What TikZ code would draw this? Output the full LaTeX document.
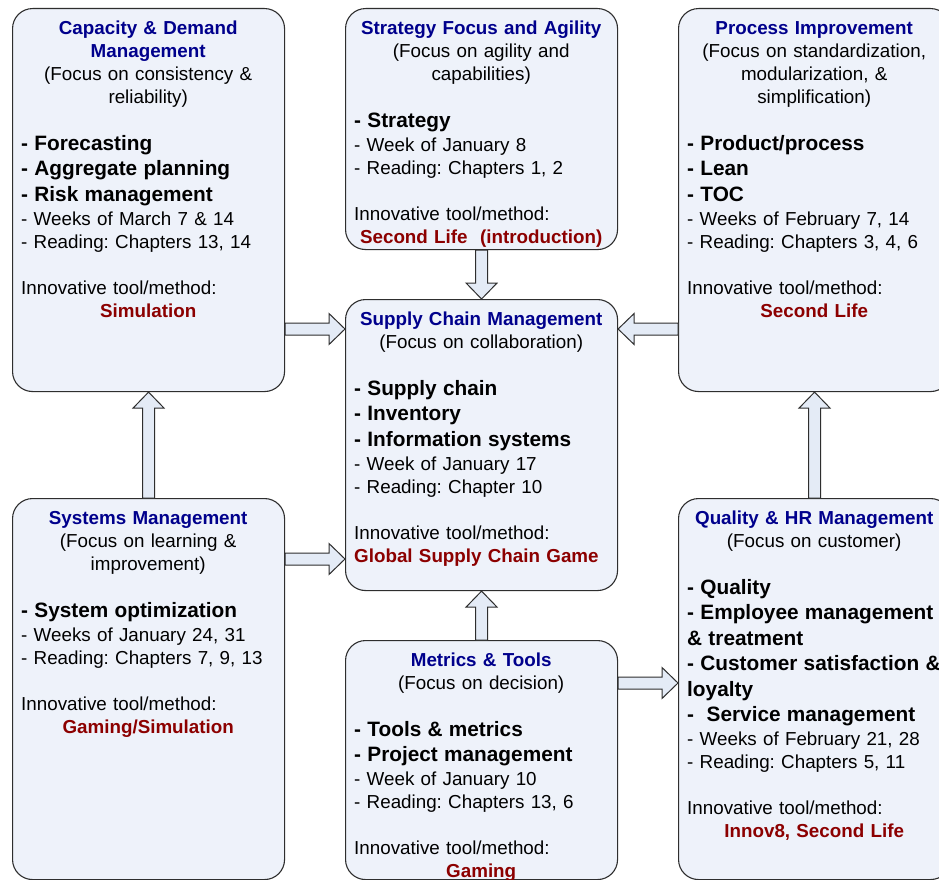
\documentclass[tikz,border=0pt]{standalone}
\usepackage{fontspec}
\setmainfont{Liberation Sans}
\usetikzlibrary{calc}
\setlength{\parindent}{0pt}
\frenchspacing
\definecolor{boxfill}{HTML}{EEF2FA}
\definecolor{arrowfill}{HTML}{E4EBF6}
\definecolor{edgegray}{HTML}{2E2E2E}
\definecolor{titleblue}{HTML}{00008C}
\definecolor{toolred}{HTML}{8C0000}
\newcommand{\ctr}[1]{\makebox[\hsize]{#1}}
\newcommand{\boxtitle}[1]{\ctr{\color{titleblue}\bfseries #1}}
\newcommand{\toolname}[1]{\ctr{\color{toolred}\bfseries #1}}
\newcommand{\itm}[1]{{\fontsize{20.8}{25.5}\selectfont\bfseries #1}}
\newcommand{\blockarrow}[2]{%
  \draw[barrow] let \p1=#1, \p2=#2, \n1={atan2(\y2-\y1,\x2-\x1)},
    \n2={veclen(\x2-\x1,\y2-\y1)} in [shift={(\p1)}, rotate=\n1]
    (0,-6) -- (\n2-16,-6) -- (\n2-16,-15.5) -- (\n2,0) -- (\n2-16,15.5)
    -- (\n2-16,6) -- (0,6) -- cycle;}
\begin{document}
\begin{tikzpicture}[x=1pt, y=-1pt,
  box/.style={draw=edgegray, line width=1.1pt, fill=boxfill, rounded corners=20pt,
    anchor=north west, minimum width=272pt, inner sep=0pt},
  txt/.style={anchor=north west, text width=254pt, align=left, inner sep=0pt,
    font=\fontsize{18.8}{23}\selectfont},
  barrow/.style={draw=edgegray, line width=1pt, fill=arrowfill, line join=miter}]
\useasboundingbox (0,0) rectangle (939,880);
\clip (0,0) rectangle (939,880);
\fill[white] (0,0) rectangle (939,880);

\node[box, minimum height=383pt] (capdem) at (12,8) {};
\node[box, minimum height=241pt] (strat) at (345,8) {};
\node[box, minimum height=383pt] (procimp) at (678,8) {};
\node[box, minimum height=291pt] (scm) at (345,299) {};
\node[box, minimum height=381pt] (sysman) at (12,498) {};
\node[box, minimum height=239pt] (metrics) at (345,640) {};
\node[box, minimum height=381pt] (qualhr) at (678,498) {};

\node[txt] (capdemtxt) at ([shift={(9,10)}]capdem.north west) {%
  \vrule height 16pt width 0pt\boxtitle{Capacity \& Demand}\\
  \boxtitle{Management}\\
  \ctr{(Focus on consistency \&}\\
  \ctr{reliability)}\\[24pt]
  \itm{- Forecasting}\\[2.5pt]
  \itm{- Aggregate planning}\\[2.5pt]
  \itm{- Risk management}\\[1pt]
  - Weeks of March 7 \& 14\\
  - Reading: Chapters 13, 14\\[23pt]
  Innovative tool/method:\\
  \toolname{Simulation}};

\node[txt] (strattxt) at ([shift={(9,10)}]strat.north west) {%
  \vrule height 16pt width 0pt\boxtitle{Strategy Focus and Agility}\\
  \ctr{(Focus on agility and}\\
  \ctr{capabilities)}\\[24pt]
  \itm{- Strategy}\\[1pt]
  - Week of January 8\\
  - Reading: Chapters 1, 2\\[23pt]
  Innovative tool/method:\\
  \toolname{Second Life~ (introduction)}};

\node[txt] (procimptxt) at ([shift={(9,10)}]procimp.north west) {%
  \vrule height 16pt width 0pt\boxtitle{Process Improvement}\\
  \ctr{(Focus on standardization,}\\
  \ctr{modularization, \&}\\
  \ctr{simplification)}\\[24pt]
  \itm{- Product/process}\\[2.5pt]
  \itm{- Lean}\\[2.5pt]
  \itm{- TOC}\\[1pt]
  - Weeks of February 7, 14\\
  - Reading: Chapters 3, 4, 6\\[23pt]
  Innovative tool/method:\\
  \toolname{Second Life}};

\node[txt] (scmtxt) at ([shift={(9,10)}]scm.north west) {%
  \vrule height 16pt width 0pt\boxtitle{Supply Chain Management}\\
  \ctr{(Focus on collaboration)}\\[24pt]
  \itm{- Supply chain}\\[2.5pt]
  \itm{- Inventory}\\[2.5pt]
  \itm{- Information systems}\\[1pt]
  - Week of January 17\\
  - Reading: Chapter 10\\[23pt]
  Innovative tool/method:\\
  {\color{toolred}\bfseries Global Supply Chain Game}};

\node[txt] (sysmantxt) at ([shift={(9,10)}]sysman.north west) {%
  \vrule height 16pt width 0pt\boxtitle{Systems Management}\\
  \ctr{(Focus on learning \&}\\
  \ctr{improvement)}\\[24pt]
  \itm{- System optimization}\\[1pt]
  - Weeks of January 24, 31\\
  - Reading: Chapters 7, 9, 13\\[23pt]
  Innovative tool/method:\\
  \toolname{Gaming/Simulation}};

\node[txt] (metricstxt) at ([shift={(9,10)}]metrics.north west) {%
  \vrule height 16pt width 0pt\boxtitle{Metrics \& Tools}\\
  \ctr{(Focus on decision)}\\[24pt]
  \itm{- Tools \& metrics}\\[2.5pt]
  \itm{- Project management}\\[1pt]
  - Week of January 10\\
  - Reading: Chapters 13, 6\\[23pt]
  Innovative tool/method:\\
  \toolname{Gaming}};

\node[txt] (qualhrtxt) at ([shift={(9,10)}]qualhr.north west) {%
  \vrule height 16pt width 0pt\boxtitle{Quality \& HR Management}\\
  \ctr{(Focus on customer)}\\[24pt]
  \itm{- Quality}\\[2.5pt]
  \itm{- Employee management}\\[2.5pt]
  \itm{\& treatment}\\[2.5pt]
  \itm{- Customer satisfaction \&}\\[2.5pt]
  \itm{loyalty}\\[2.5pt]
  \itm{-~ Service management}\\[1pt]
  - Weeks of February 21, 28\\
  - Reading: Chapters 5, 11\\[23pt]
  Innovative tool/method:\\
  \toolname{Innov8, Second Life}};

\coordinate (hi) at (0,329);
\coordinate (lo) at (0,559);
\coordinate (mid) at (0,683);
\blockarrow{(capdem.east |- hi)}{(scm.west |- hi)}
\blockarrow{(procimp.west |- hi)}{(scm.east |- hi)}
\blockarrow{(sysman.east |- lo)}{(scm.west |- lo)}
\blockarrow{(metrics.east |- mid)}{(qualhr.west |- mid)}
\blockarrow{(strat.south)}{(scm.north)}
\blockarrow{(metrics.north)}{(scm.south)}
\blockarrow{(sysman.north)}{(capdem.south)}
\blockarrow{(qualhr.north)}{(procimp.south)}
\end{tikzpicture}
\end{document}
